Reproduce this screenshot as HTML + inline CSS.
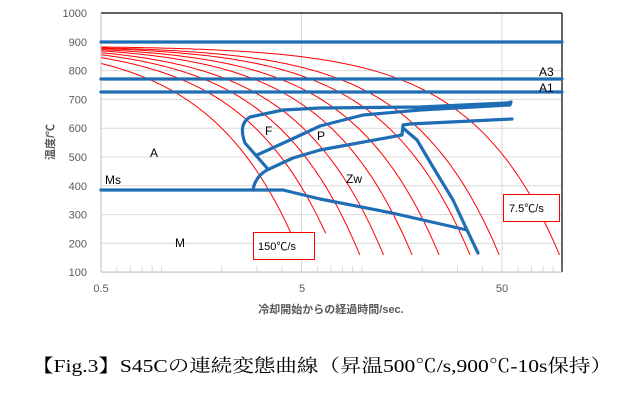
<!DOCTYPE html>
<html><head><meta charset="utf-8"><style>
html,body{margin:0;padding:0;background:#fff;width:643px;height:400px;overflow:hidden}
svg{display:block}
.t{font-family:"Liberation Sans","Noto Sans CJK JP",sans-serif}
</style></head><body>
<svg id="s" width="643" height="400" viewBox="0 0 643 400" xmlns="http://www.w3.org/2000/svg">
<g id="grid" stroke="#d9d9d9" stroke-width="1"></g>
<g id="red" fill="none" stroke="#ff0000" stroke-width="1"></g>
<line x1="101" y1="13" x2="562" y2="13" stroke="#000" stroke-width="1.2"/>
<line x1="562" y1="13" x2="562" y2="272" stroke="#000" stroke-width="1.2"/>
<line x1="101" y1="13" x2="101" y2="272" stroke="#bfbfbf" stroke-width="1"/>
<line x1="101" y1="272" x2="562" y2="272" stroke="#bfbfbf" stroke-width="1"/>
<g fill="none" stroke="#1f6db5" stroke-width="3.2" stroke-linejoin="round" stroke-linecap="round">
<line x1="101" y1="42" x2="562" y2="42"/>
<line x1="101" y1="79" x2="562" y2="79"/>
<line x1="101" y1="92" x2="562" y2="92"/>
<path d="M101,190 L283,190 L320,199 L392,213 L467,230"/>
<path d="M253,190 Q255,177 267,170 L293,158 L320,150 L402,135 L403,125 L410,124 L512,119"/>
<path d="M403,128 L417,140 L433,167 L453,200 L467,230 L478,253"/>
<path d="M267,168 L245,143 Q238,124 250,117 L283,110 L320,108 L420,107 L507,103 L511,102 L510,105 L420,110 L363,115 L320,126 L290,140 L257,155"/>
</g>
<g fill="#fff" stroke="#ff0000" stroke-width="1">
<rect x="253.5" y="232.5" width="61" height="27"/>
<rect x="503.5" y="194.5" width="56" height="27"/>
</g>
<g class="t" font-size="11" fill="#000">
<text x="258" y="250">150℃/s</text>
<text x="509" y="212">7.5℃/s</text>
<text x="150" y="157" font-size="12">A</text>
<text x="265" y="135" font-size="12">F</text>
<text x="317" y="140" font-size="12">P</text>
<text x="346" y="183" font-size="12">Zw</text>
<text x="105" y="184" font-size="12">Ms</text>
<text x="175" y="247" font-size="12">M</text>
<text x="539" y="76" font-size="12">A3</text>
<text x="539" y="92" font-size="12">A1</text>
</g>
<g id="yl" class="t" font-size="11" fill="#595959" text-anchor="end"></g>
<g class="t" font-size="11" fill="#595959" text-anchor="middle">
<text x="101" y="292">0.5</text><text x="302" y="292">5</text><text x="502" y="292">50</text>
</g>
<text class="t" x="331" y="313" font-size="11" font-weight="bold" fill="#595959" text-anchor="middle">冷却開始からの経過時間/sec.</text>
<text class="t" transform="translate(54,142) rotate(-90)" font-size="11" font-weight="bold" fill="#595959" text-anchor="middle">温度/℃</text>
<text x="322" y="372" font-family="'Liberation Serif','Noto Serif CJK SC',serif" font-size="18" fill="#000" text-anchor="middle" textLength="580" lengthAdjust="spacingAndGlyphs">【Fig.3】S45Cの連続変態曲線（昇温500℃/s,900℃-10s保持）</text>
</svg>
<script>
var ns="http://www.w3.org/2000/svg";
function X(t){return 101+200.5*Math.log10(t/0.5);}
function Y(T){return 13+(1000-T)*0.288;}
var g=document.getElementById('grid'),yl=document.getElementById('yl');
for(var T=100;T<=1000;T+=100){var l=document.createElementNS(ns,'line');l.setAttribute('x1',101);l.setAttribute('x2',562);l.setAttribute('y1',Y(T));l.setAttribute('y2',Y(T));g.appendChild(l);
var tx=document.createElementNS(ns,'text');tx.setAttribute('x',87);tx.setAttribute('y',Y(T)+4);tx.textContent=T;yl.appendChild(tx);}
[0.5,1,2,3,4,5,10,20,30,40,50].forEach(function(t){var x=X(t);var l=document.createElementNS(ns,'line');l.setAttribute('x1',x);l.setAttribute('x2',x);l.setAttribute('y1',(t==5||t==50)?13:266);l.setAttribute('y2',272);g.appendChild(l);});
[0.6,0.7,0.8,0.9,6,7,8,9,60,70,80,90].forEach(function(t){var x=X(t);var l=document.createElementNS(ns,'line');l.setAttribute('x1',x);l.setAttribute('x2',x);l.setAttribute('y1',266);l.setAttribute('y2',272);g.appendChild(l);});
var r=document.getElementById('red');
[150,100,75,57,41,30,21,15,7.5].forEach(function(rate){
 var T0=885,off=0.1;
 var tEnd=(T0-(rate>=100?235:160))/rate+off;var d='';
 for(var i=0;i<=100;i++){var t=0.5*Math.pow(tEnd/0.5,i/100);var x=X(t);if(x>562)break;d+=(i?'L':'M')+x.toFixed(1)+','+Y(T0-rate*(t-off)).toFixed(1);}
 var p=document.createElementNS(ns,'path');p.setAttribute('d',d);r.appendChild(p);});
</script>
</body></html>
